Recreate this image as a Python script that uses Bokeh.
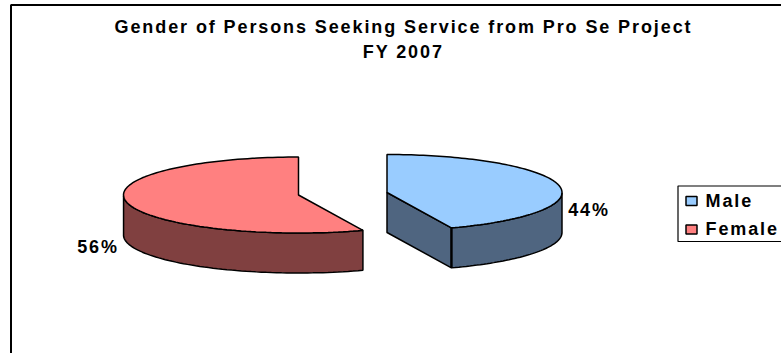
import numpy as np
from bokeh.core.properties import value
from bokeh.embed import file_html
from bokeh.models import Range1d
from bokeh.plotting import figure
from bokeh.resources import INLINE

# Share of persons seeking service, FY 2007
categories = ["Male", "Female"]
shares = [44, 56]
title_lines = ["Gender of Persons Seeking Service from Pro Se Project", "FY 2007"]
top_colors = ["#99CCFF", "#FF8080"]
side_colors = ["#4F6580", "#804040"]

W, H = 781, 353
FONT = value("Liberation Sans")
FONT_SIZE = "18px"
TRACKING = 1.9
RX, RY, DEPTH = 175, 38, 40
EDGE = 1.5

p = figure(width=W, height=H, output_backend="svg", toolbar_location=None,
           x_range=Range1d(0, W), y_range=Range1d(H, 0), min_border=0,
           background_fill_color="white", border_fill_color="white",
           outline_line_color=None, x_axis_location=None, y_axis_location=None)
p.grid.visible = False
p.styles = {"letter-spacing": f"{TRACKING}px"}


def centred(x, text):
    """Anchor for centred text, allowing for the tracking added after each letter."""
    return x - TRACKING * len(text) / 2


def rim(cx, cy, start, end):
    """Points of the pie's elliptical rim; angles run clockwise from 12 o'clock."""
    t = np.radians(np.linspace(start, end, 120))
    return cx + RX * np.sin(t), cy - RY * np.cos(t)


def wedge(cx, cy, start, end, top, side):
    xs, ys = rim(cx, cy, start, end)
    # Outer wall: only the part of the rim that faces the viewer
    front = (ys >= cy - 0.01)
    fx, fy = xs[front], ys[front]
    p.patch(np.r_[fx, fx[::-1]], np.r_[fy, fy[::-1] + DEPTH],
            fill_color=side, line_color="black", line_width=EDGE)
    # Cut wall running from the apex to the rim, when it faces the viewer
    if start == 0:
        ex, ey = xs[-1], ys[-1]
        p.patch([cx, ex, ex, cx], [cy, ey, ey + DEPTH, cy + DEPTH],
                fill_color=side, line_color="black", line_width=EDGE)
        p.line([ex, ex], [ey, ey + DEPTH], line_color="black", line_width=2.2)
    p.patch(np.r_[cx, xs], np.r_[cy, ys], fill_color=top, line_color="black", line_width=EDGE)


male_sweep = 360 * shares[0] / sum(shares)
wedge(386.5, 192, 0, male_sweep, top_colors[0], side_colors[0])
wedge(298, 194.5, male_sweep, 360, top_colors[1], side_colors[1])

# Chart frame, open towards the right and bottom of the page
p.line([10.5, 10.5, W], [H, 4.5, 4.5], line_color="black", line_width=2)

p.text(x=[centred(403, t) for t in title_lines], y=[26, 51], text=title_lines, text_font=FONT,
       text_font_style="bold", text_font_size=FONT_SIZE, text_align="center",
       text_baseline="middle", text_color="black")
pct = [f"{s}%" for s in shares]
p.text(x=[centred(588.5, pct[0]), centred(97.5, pct[1])], y=[209, 246], text=pct, text_font=FONT,
       text_font_style="bold", text_font_size=FONT_SIZE, text_align="center",
       text_baseline="middle", text_color="black")

# Legend
p.line([W, 677.5, 677.5, W], [185.5, 185.5, 241, 241], line_color="black", line_width=1.2)
p.quad(left=[685.5, 685.5], right=[696.5, 696.5], top=[196, 224.5], bottom=[205, 233.5],
       fill_color=top_colors, line_color="black", line_width=1.5)
p.text(x=[705, 705], y=[200, 228], text=categories, text_font=FONT, text_font_style="bold",
       text_font_size=FONT_SIZE, text_align="left", text_baseline="middle", text_color="black")

open("out.html", "w").write(file_html(p, INLINE))
